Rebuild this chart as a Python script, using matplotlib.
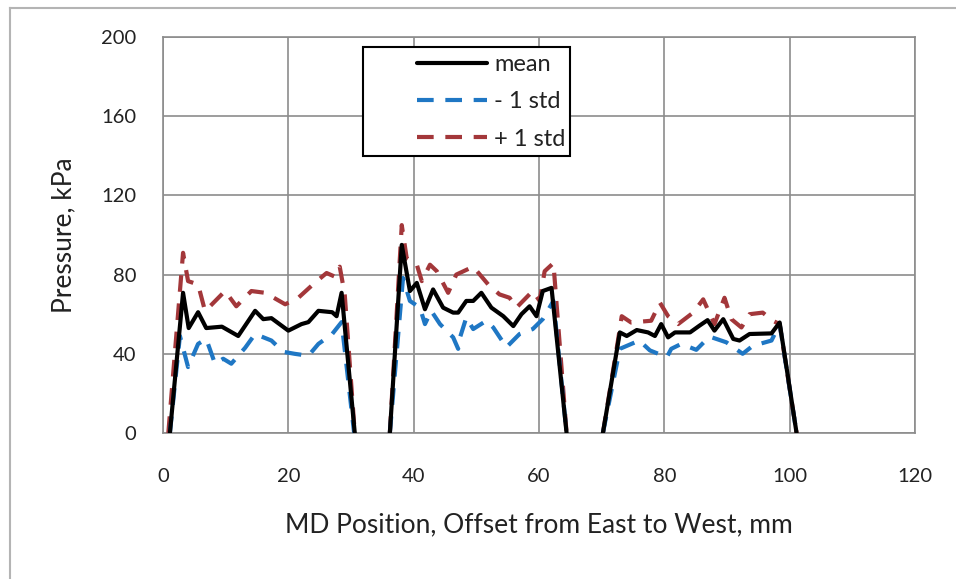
import numpy as np
import matplotlib
matplotlib.use("Agg")
import matplotlib.pyplot as plt
from matplotlib.lines import Line2D
from matplotlib.patches import Rectangle

nan = np.nan

# mean
x_mean = [1.1, 3.2, 4.1, 5.6, 6.9, 9.4, 12.0, 14.7, 16.0, 17.3, 20.0, 22.1, 23.2, 24.8, 27.0, 27.7, 28.5, 30.6, nan,
          36.2, 38.1, 39.4, 40.5, 41.8, 43.1, 44.7, 46.3, 47.1, 48.4, 49.5, 50.8, 52.4, 54.3, 55.9, 57.2, 58.5, 59.6, 60.6, 62.0, 64.4, nan,
          70.2, 72.9, 74.0, 75.6, 77.4, 78.5, 79.5, 80.6, 81.7, 84.1, 85.6, 86.9, 88.0, 89.4, 91.0, 92.0, 93.6, 97.1, 98.4, 101.1]
y_mean = [0, 70.8, 53, 61, 53, 53.7, 49, 61.7, 57.5, 58, 51.7, 55, 56, 61.7, 61, 59, 70.8, 0, nan,
          0, 95, 71.7, 75.8, 62.5, 72.5, 63.3, 60.8, 60.8, 66.7, 66.7, 70.8, 63.3, 59, 54, 60, 64, 59, 71.7, 73.3, 0, nan,
          0, 50.8, 49, 52, 50.8, 49, 55, 48.3, 50.8, 50.8, 54.2, 57, 51.7, 57.5, 47.5, 46.7, 50, 50.3, 55.8, 0]

# - 1 std
x_low = [1.1, 2.7, 4.0, 5.6, 6.9, 8.3, 9.6, 10.9, 13.1, 14.7, 17.3, 19.2, 21.0, 23.2, 24.8, 27.0, 28.5, 30.5, nan,
         36.2, 38.3, 39.4, 41.0, 41.8, 42.8, 44.2, 46.3, 47.1, 47.4, 48.4, 49.5, 51.6, 52.7, 54.8, 56.9, 59.0, 60.6, 62.3, 64.4, nan,
         70.2, 72.9, 76.0, 77.7, 80.4, 81.1, 82.7, 85.1, 87.2, 89.9, 92.5, 94.1, 97.1, 98.4, 101.1]
y_low = [0, 49, 33.3, 45, 47.5, 35, 37.5, 35, 43, 50, 46.7, 41, 40, 39, 45, 50, 56, 0, nan,
         0, 78.3, 66.7, 63.3, 55, 61.7, 55, 48.3, 42.5, 48.3, 58.3, 52.5, 56.7, 53.3, 43.3, 50, 52.5, 57.5, 66.7, 0, nan,
         0, 42.5, 46.7, 41.7, 38.3, 42.5, 45, 42, 48.7, 45.8, 40, 44, 46.7, 55, 0]

# + 1 std
x_high = [0.85, 3.2, 4.0, 5.6, 6.7, 7.5, 9.9, 11.7, 14.1, 16.3, 19.5, 21.6, 24.2, 26.1, 27.4, 28.2, 29.0, 30.6, nan,
          36.2, 38.1, 38.9, 40.5, 41.3, 42.6, 43.7, 45.5, 46.8, 49.5, 51.9, 53.7, 55.3, 56.4, 59.0, 60.1, 60.9, 62.3, 64.4, nan,
          70.2, 72.6, 73.2, 74.7, 77.9, 79.3, 80.6, 82.2, 84.6, 86.2, 88.0, 89.6, 90.7, 92.3, 93.6, 95.7, 97.3, 98.4, 101.1]
y_high = [0, 91, 76.7, 75, 61.7, 64, 71.7, 64, 71.7, 70.8, 65, 68.3, 75.8, 80.8, 79, 84, 70, 0, nan,
          0, 105, 88, 85, 76.7, 85, 81.7, 70.8, 80, 84, 75, 70, 68.3, 63.3, 71.7, 66.7, 81.7, 85.8, 0, nan,
          0, 46.7, 59, 55.8, 56.7, 65.8, 59, 55, 60.8, 67.5, 55, 68.3, 57.5, 53.3, 60, 60.8, 56.7, 55, 0]

x_ticks = [0, 20, 40, 60, 80, 100, 120]
y_ticks = [0, 40, 80, 120, 160, 200]

plt.rcParams['font.family'] = ['Lato', 'DejaVu Sans']

fig = plt.figure(figsize=(9.56, 5.79), dpi=100)
ax = fig.add_axes([163/956, 1-433/579, (915-163)/956, (433-37)/579])

lw = 3.0
dash = (0, (4.0, 2.8))
ax.plot(x_mean, y_mean, color='black', lw=lw, label='mean', zorder=5,
        solid_joinstyle='round', solid_capstyle='round')
ax.plot(x_low, y_low, color='#1f77c4', lw=lw, linestyle=dash, label='- 1 std', zorder=4,
        dash_joinstyle='round')
ax.plot(x_high, y_high, color='#a3373a', lw=lw, linestyle=dash, label='+ 1 std', zorder=3,
        dash_joinstyle='round')

ax.set_xlim(0, 120)
ax.set_ylim(0, 200)
ax.set_xticks(x_ticks)
ax.set_yticks(y_ticks)
ax.grid(True, color='#8c8c8c', lw=1.2)
ax.set_axisbelow(True)
for s in ax.spines.values():
    s.set_color('#8c8c8c')
    s.set_linewidth(1.2)
ax.tick_params(length=0, labelsize=14.5, colors='#222222')
ax.tick_params(axis='x', pad=25)
ax.tick_params(axis='y', pad=19)

ax.set_xlabel('MD Position, Offset from East to West, mm', fontsize=19, labelpad=20, color='#222222')
ax.set_ylabel('Pressure, kPa', fontsize=19, labelpad=18, color='#222222')

# legend box
rect = Rectangle((200/752, 277/396), 207/752, 109/396, transform=ax.transAxes,
                 facecolor='white', edgecolor='black', lw=1.5, zorder=10)
ax.add_patch(rect)
leg = ax.legend(loc='center left', bbox_to_anchor=(254/752, 331/396), fontsize=17, frameon=False,
                handlelength=2.97, handletextpad=0.3, labelspacing=0.68,
                borderpad=0, borderaxespad=0)
leg.set_zorder(11)
for t in leg.get_texts():
    t.set_color('#222222')

# figure border (top and left)
fig.add_artist(Line2D([10/956, 10/956], [0, 1-8/579], color='#b4b4b4', lw=1.5, transform=fig.transFigure))
fig.add_artist(Line2D([10/956, 1], [1-8/579, 1-8/579], color='#b4b4b4', lw=1.5, transform=fig.transFigure))

fig.savefig('out.png', dpi=100)
